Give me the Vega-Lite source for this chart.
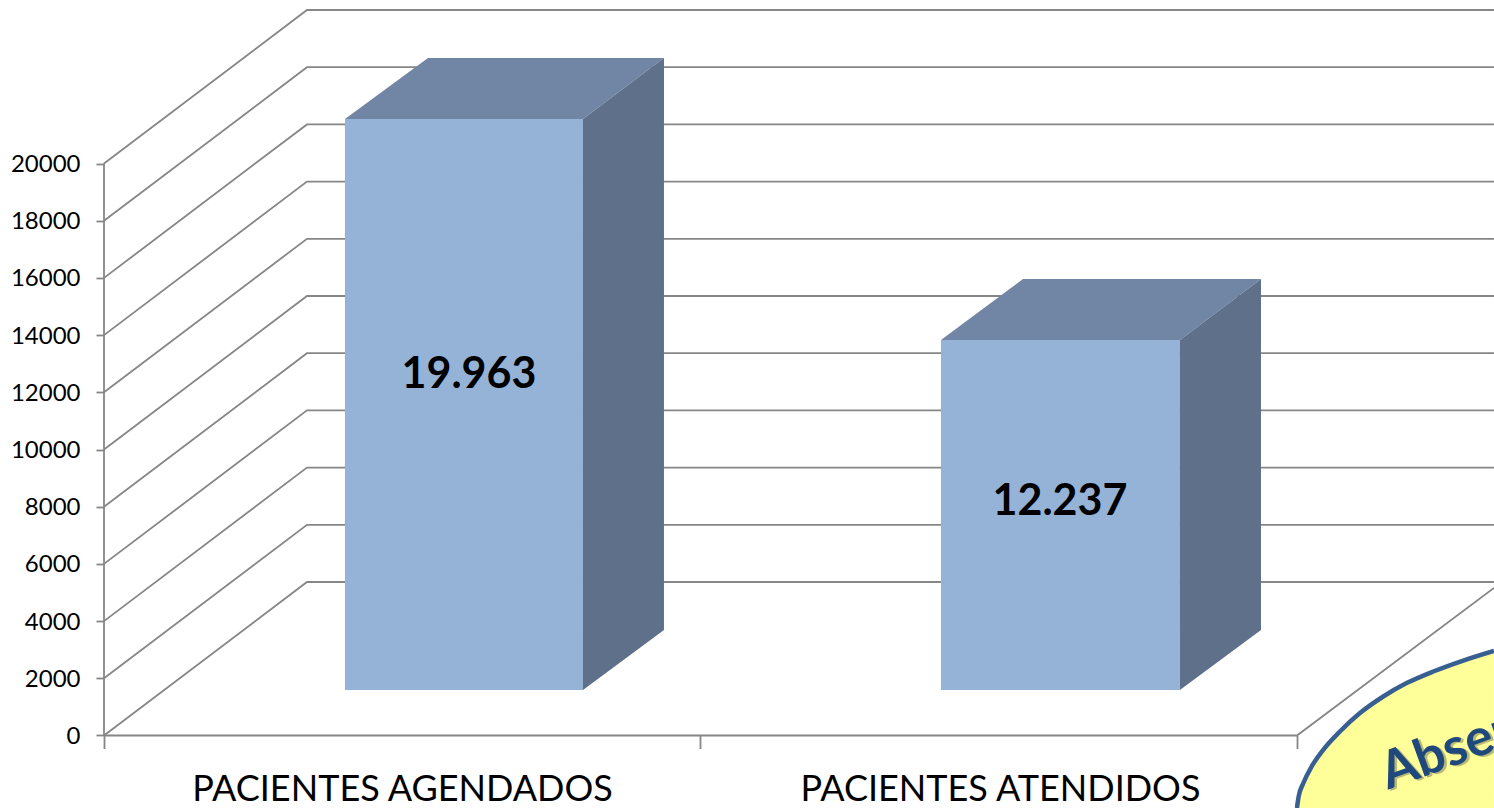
{
"$schema":"https://vega.github.io/schema/vega-lite/v6.json",
"width":1494,"height":808,"padding":0,"autosize":{"type":"none"},"background":"white",
"config":{"view":{"stroke":null},"font":"Lato"},
"resolve":{"axis":{"x":"independent","y":"independent"}},
"layer":[
{"data":{"values":[
{"line":"0","u":0,"v":0},{"line":"0","u":0.3403,"v":5367},{"line":"0","u":2.3303,"v":5367},
{"line":"2000","u":0,"v":2000},{"line":"2000","u":0.3403,"v":7367},{"line":"2000","u":2.3303,"v":7367},
{"line":"4000","u":0,"v":4000},{"line":"4000","u":0.3403,"v":9367},{"line":"4000","u":2.3303,"v":9367},
{"line":"6000","u":0,"v":6000},{"line":"6000","u":0.3403,"v":11367},{"line":"6000","u":2.3303,"v":11367},
{"line":"8000","u":0,"v":8000},{"line":"8000","u":0.3403,"v":13367},{"line":"8000","u":2.3303,"v":13367},
{"line":"10000","u":0,"v":10000},{"line":"10000","u":0.3403,"v":15367},{"line":"10000","u":2.3303,"v":15367},
{"line":"12000","u":0,"v":12000},{"line":"12000","u":0.3403,"v":17367},{"line":"12000","u":2.3303,"v":17367},
{"line":"14000","u":0,"v":14000},{"line":"14000","u":0.3403,"v":19367},{"line":"14000","u":2.3303,"v":19367},
{"line":"16000","u":0,"v":16000},{"line":"16000","u":0.3403,"v":21367},{"line":"16000","u":2.3303,"v":21367},
{"line":"18000","u":0,"v":18000},{"line":"18000","u":0.3403,"v":23367},{"line":"18000","u":2.3303,"v":23367},
{"line":"20000","u":0,"v":20000},{"line":"20000","u":0.3403,"v":25367},{"line":"20000","u":2.3303,"v":25367},
{"line":"floor","u":0,"v":0},{"line":"floor","u":2,"v":0},{"line":"floor","u":2.3303,"v":5157}
]},
"mark":{"type":"line","stroke":"#868686","strokeWidth":1.8,"clip":false},
"encoding":{
"x":{"field":"u","type":"quantitative","scale":{"domain":[-0.17435,2.33035],"nice":false,"zero":false},"axis":{"values":[0,1,2],"orient":"bottom","offset":-72.5,"labels":false,"title":null,"grid":false,"domain":false,"tickSize":13,"tickColor":"#868686","tickWidth":1.8}},
"y":{"field":"v","type":"quantitative","scale":{"domain":[-2535,25717],"nice":false,"zero":false},"axis":{"values":[0,2000,4000,6000,8000,10000,12000,14000,16000,18000,20000],"orient":"left","offset":-104,"format":"d","title":null,"grid":false,"domain":false,"tickSize":8,"tickColor":"#868686","tickWidth":1.8,"labelPadding":16,"labelFont":"Lato","labelFontSize":24,"labelOffset":1,"labelColor":"#000000"}},
"detail":{"field":"line"}
}},
{"data":{"values":[{"line":"axis","u":0,"v":0},{"line":"axis","u":0,"v":20000}]},
"mark":{"type":"rule","stroke":"#868686","strokeWidth":1.8},
"encoding":{"x":{"aggregate":"min","field":"u","type":"quantitative","axis":null},"y":{"aggregate":"min","field":"v","type":"quantitative","axis":null},"y2":{"aggregate":"max","field":"v"}}},
{"data":{"values":[{"u":0.4996,"name":"PACIENTES AGENDADOS"},{"u":1.502,"name":"PACIENTES ATENDIDOS"}]},
"mark":{"type":"text","opacity":0},
"encoding":{"x":{"field":"u","type":"quantitative","axis":{"values":[0.4996,1.502],"orient":"bottom","offset":-72.5,"labelExpr":"datum.value<1?'PACIENTES AGENDADOS':'PACIENTES ATENDIDOS'","title":null,"grid":false,"domain":false,"ticks":false,"labelPadding":37,"labelFont":"Lato","labelFontSize":36,"labelColor":"#000000","labelOverlap":false,"labelBound":false,"labelFlush":false,"labelLimit":0}},"text":{"field":"name"}}},
{"data":{"values":[
{"bar":"AGENDADOS","face":"front","u":0.4040,"top":21556,"bottom":1591},{"bar":"AGENDADOS","face":"front","u":0.8030,"top":21556,"bottom":1591},
{"bar":"AGENDADOS","face":"top","u":0.4040,"top":21556,"bottom":21556},{"bar":"AGENDADOS","face":"top","u":0.5432,"top":23689,"bottom":21556},{"bar":"AGENDADOS","face":"top","u":0.8030,"top":23689,"bottom":21556},{"bar":"AGENDADOS","face":"top","u":0.9388,"top":23689,"bottom":23689},
{"bar":"AGENDADOS","face":"side","u":0.8030,"top":21556,"bottom":1591},{"bar":"AGENDADOS","face":"side","u":0.9388,"top":23689,"bottom":3689},
{"bar":"ATENDIDOS","face":"front","u":1.4032,"top":13829,"bottom":1591},{"bar":"ATENDIDOS","face":"front","u":1.8038,"top":13829,"bottom":1591},
{"bar":"ATENDIDOS","face":"top","u":1.4032,"top":13829,"bottom":13829},{"bar":"ATENDIDOS","face":"top","u":1.5406,"top":15962,"bottom":13829},{"bar":"ATENDIDOS","face":"top","u":1.8038,"top":15962,"bottom":13829},{"bar":"ATENDIDOS","face":"top","u":1.9397,"top":15962,"bottom":15962},
{"bar":"ATENDIDOS","face":"side","u":1.8038,"top":13829,"bottom":1591},{"bar":"ATENDIDOS","face":"side","u":1.9397,"top":15962,"bottom":3689}
]},
"mark":{"type":"area","opacity":1},
"encoding":{
"x":{"field":"u","type":"quantitative","axis":null},
"y":{"field":"top","type":"quantitative","axis":null},
"y2":{"field":"bottom"},
"detail":{"field":"bar"},
"color":{"field":"face","type":"nominal","legend":null,"scale":{"domain":["front","top","side"],"range":["#95B3D7","#7186A4","#5F708A"]}}
}},
{"data":{"values":[{"u":0.6119,"v":12605,"label":"19.963"},{"u":1.6027,"v":8164,"label":"12.237"}]},
"mark":{"type":"text","font":"Lato","fontWeight":"bold","fontSize":43,"color":"#000000","align":"center","baseline":"middle"},
"encoding":{"x":{"field":"u","type":"quantitative","axis":null},"y":{"field":"v","type":"quantitative","axis":null},"text":{"field":"label"}}},
{"data":{"values":[
{"u":2.0,"top":-2535,"bottom":-2535},{"u":2.0028,"top":-2140,"bottom":-2535},{"u":2.0106,"top":-1668,"bottom":-2535},{"u":2.0246,"top":-1084,"bottom":-2535},{"u":2.0441,"top":-500,"bottom":-2535},{"u":2.0721,"top":140,"bottom":-2535},{"u":2.1056,"top":783,"bottom":-2535},{"u":2.1447,"top":1364,"bottom":-2535},{"u":2.1839,"top":1832,"bottom":-2535},{"u":2.2285,"top":2238,"bottom":-2535},{"u":2.2788,"top":2622,"bottom":-2535},{"u":2.3303,"top":2960,"bottom":-2535}
]},
"layer":[
{"mark":{"type":"area","color":"#FFFF99","interpolate":"monotone"},
"encoding":{"x":{"field":"u","type":"quantitative","axis":null},"y":{"field":"top","type":"quantitative","axis":null},"y2":{"field":"bottom"}}},
{"mark":{"type":"line","stroke":"#375F92","strokeWidth":4.5,"interpolate":"monotone"},
"encoding":{"x":{"field":"u","type":"quantitative","axis":null},"y":{"field":"top","type":"quantitative","axis":null}}}
]},
{"data":{"values":[{"u":2.1526,"v":-1900,"label":"Absen"}]},
"layer":[
{"mark":{"type":"text","font":"Lato","fontWeight":"bold","fontSize":52,"color":"#8C8C60","opacity":0.6,"align":"left","baseline":"alphabetic","angle":-20,"dx":2,"dy":2},
"encoding":{"x":{"field":"u","type":"quantitative","axis":null},"y":{"field":"v","type":"quantitative","axis":null},"text":{"field":"label"}}},
{"mark":{"type":"text","font":"Lato","fontWeight":"bold","fontSize":52,"color":"#1F497D","align":"left","baseline":"alphabetic","angle":-20},
"encoding":{"x":{"field":"u","type":"quantitative","axis":null},"y":{"field":"v","type":"quantitative","axis":null},"text":{"field":"label"}}}
]}
]
}
